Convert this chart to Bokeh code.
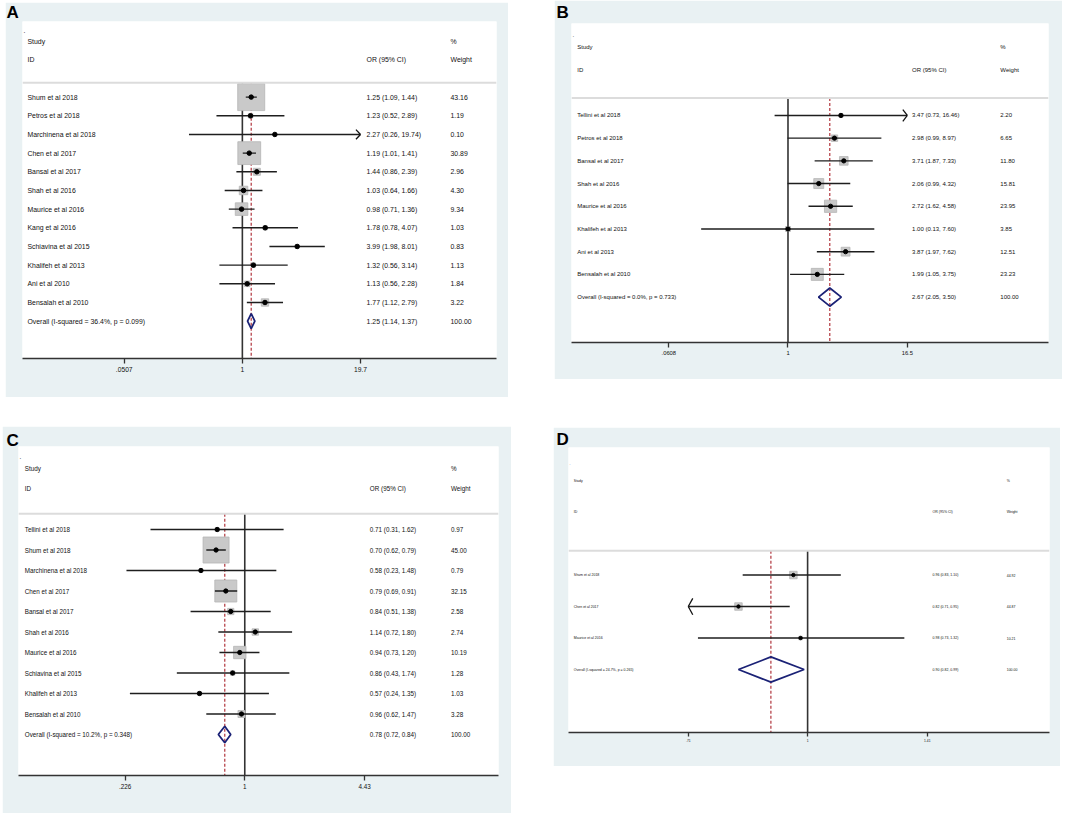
import numpy as np
from bokeh.plotting import figure
from bokeh.layouts import row, column
from bokeh.models import (Range1d, FixedTicker, CustomJSTickFormatter, Span, Label,
                          ColumnDataSource, Spacer)
from bokeh.core.properties import value
from bokeh.embed import file_html
from bokeh.resources import INLINE

FONT = "Liberation Sans"
BG = "#E9F1F3"

# ---------------- Panel A ----------------
a_studies = ["Shum et al 2018", "Petros et al 2018", "Marchinena et al 2018", "Chen et al 2017",
             "Bansal et al 2017", "Shah et al 2016", "Maurice et al 2016", "Kang et al 2016",
             "Schiavina et al 2015", "Khalifeh et al 2013", "Ani et al 2010", "Bensalah et al 2010"]
a_or = [1.25, 1.23, 2.27, 1.19, 1.44, 1.03, 0.98, 1.78, 3.99, 1.32, 1.13, 1.77]
a_lo = [1.09, 0.52, 0.26, 1.01, 0.86, 0.64, 0.71, 0.78, 1.98, 0.56, 0.56, 1.12]
a_hi = [1.44, 2.89, 19.74, 1.41, 2.39, 1.66, 1.36, 4.07, 8.01, 3.14, 2.28, 2.79]
a_wt = [43.16, 1.19, 0.10, 30.89, 2.96, 4.30, 9.34, 1.03, 0.83, 1.13, 1.84, 3.22]
a_overall = [1.25, 1.14, 1.37]
a_overall_label = "Overall  (I-squared = 36.4%, p = 0.099)"
a_ticks = [0.0507, 1, 19.7]
a_tick_labels = [".0507", "1", "19.7"]

# ---------------- Panel B ----------------
b_studies = ["Tellini et al 2018", "Petros et al 2018", "Bansal et al 2017", "Shah et al 2016",
             "Maurice et al 2016", "Khalifeh et al 2013", "Ani et al 2013", "Bensalah et al 2010"]
b_or = [3.47, 2.98, 3.71, 2.06, 2.72, 1.00, 3.87, 1.99]
b_lo = [0.73, 0.99, 1.87, 0.99, 1.62, 0.13, 1.97, 1.05]
b_hi = [16.46, 8.97, 7.33, 4.32, 4.58, 7.60, 7.62, 3.75]
b_wt = [2.20, 6.65, 11.80, 15.81, 23.95, 3.85, 12.51, 23.23]
b_overall = [2.67, 2.05, 3.50]
b_overall_label = "Overall  (I-squared = 0.0%, p = 0.733)"
b_ticks = [0.0608, 1, 16.5]
b_tick_labels = [".0608", "1", "16.5"]

# ---------------- Panel C ----------------
c_studies = ["Tellini et al 2018", "Shum et al 2018", "Marchinena et al 2018", "Chen et al 2017",
             "Bansal et al 2017", "Shah et al 2016", "Maurice et al 2016", "Schiavina et al 2015",
             "Khalifeh et al 2013", "Bensalah et al 2010"]
c_or = [0.71, 0.70, 0.58, 0.79, 0.84, 1.14, 0.94, 0.86, 0.57, 0.96]
c_lo = [0.31, 0.62, 0.23, 0.69, 0.51, 0.72, 0.73, 0.43, 0.24, 0.62]
c_hi = [1.62, 0.79, 1.48, 0.91, 1.38, 1.80, 1.20, 1.74, 1.35, 1.47]
c_wt = [0.97, 45.00, 0.79, 32.15, 2.58, 2.74, 10.19, 1.28, 1.03, 3.28]
c_overall = [0.78, 0.72, 0.84]
c_overall_label = "Overall  (I-squared = 10.2%, p = 0.348)"
c_ticks = [0.226, 1, 4.43]
c_tick_labels = [".226", "1", "4.43"]

# ---------------- Panel D ----------------
d_studies = ["Shum et al 2018", "Chen et al 2017", "Maurice et al 2016"]
d_or = [0.96, 0.82, 0.98]
d_lo = [0.83, 0.71, 0.73]
d_hi = [1.10, 0.95, 1.32]
d_wt = [44.92, 44.87, 10.21]
d_overall = [0.90, 0.82, 0.99]
d_overall_label = "Overall  (I-squared = 24.7%, p = 0.265)"
d_ticks = [0.71, 1, 1.41]
d_tick_labels = [".71", "1", "1.41"]

# ---------------- layout / style per panel ----------------
lay_A = dict(letter="A", w=503, h=395, bl=17, br=12, bt=19, bb=39, f_lo=0.2146, f_hi=0.713,
             f_lab=0.0105, f_or=0.726, f_wt=0.903, fs=6.9, tfs=6.7, box=4.11, dot=4.5,
             tick_out=5, standoff=3, ldx=-4, ldy=0)
lay_B = dict(letter="B", w=508, h=379, bl=17, br=14, bt=23, bb=37, f_lo=0.204, f_hi=0.704,
             f_lab=0.012, f_or=0.714, f_wt=0.899, fs=6.0, tfs=5.8, box=2.5, dot=4.3,
             tick_out=5, standoff=3, ldx=-3, ldy=2)
lay_C = dict(letter="C", w=509, h=387, bl=16, br=13, bt=20, bb=38, f_lo=0.222, f_hi=0.721,
             f_lab=0.013, f_or=0.732, f_wt=0.901, fs=6.3, tfs=6.3, box=3.88, dot=4.3,
             tick_out=5, standoff=3, ldx=0, ldy=4)
lay_D = dict(letter="D", w=507, h=339, bl=15, br=11, bt=20, bb=34, f_lo=0.249, f_hi=0.746,
             f_lab=0.011, f_or=0.757, f_wt=0.911, fs=3.5, tfs=3.3, box=1.12, dot=3.4,
             tick_out=4, standoff=2, ldx=0, ldy=2)

SEP = 2.23
ROW_TOP = -1.05


def forest(studies, ors, los, his, wts, overall, overall_label, ticks, tick_labels, lay):
    n = len(studies)
    rows = list(np.arange(n) + 3)
    ov_row = n + 3
    y_bot = n + 5

    ln_lo, ln_hi = np.log(ticks[0]), np.log(ticks[-1])
    W = (ln_hi - ln_lo) / (lay["f_hi"] - lay["f_lo"])
    left = ln_lo - lay["f_lo"] * W
    right = left + W

    def xf(frac):
        return float(np.exp(left + frac * W))

    frame_w = lay["w"] - lay["bl"] - lay["br"]
    frame_h = lay["h"] - lay["bt"] - lay["bb"]
    px_per_ln = frame_w / W

    p = figure(width=lay["w"], height=lay["h"], x_axis_type="log",
               x_range=Range1d(np.exp(left), np.exp(right)),
               y_range=Range1d(y_bot, ROW_TOP),
               y_axis_location=None, toolbar_location=None, output_backend="svg",
               min_border_left=lay["bl"], min_border_right=lay["br"],
               min_border_top=lay["bt"], min_border_bottom=lay["bb"])
    p.border_fill_color = BG
    p.background_fill_color = "white"
    p.outline_line_color = None
    p.xgrid.visible = False
    p.ygrid.visible = False

    ax = p.xaxis[0]
    ax.ticker = FixedTicker(ticks=ticks, minor_ticks=[])
    ax.formatter = CustomJSTickFormatter(
        args=dict(tv=ticks, labels=tick_labels),
        code="let b = 0; let d = 1e9; for (let i = 0; i < tv.length; i++) {"
             " const e = Math.abs(tv[i] - tick); if (e < d) { d = e; b = i; } } return labels[b];")
    ax.axis_line_color = "#333333"
    ax.axis_line_width = 1.6
    ax.major_tick_line_color = "#333333"
    ax.major_tick_line_width = 1.3
    ax.major_tick_out = lay["tick_out"]
    ax.major_tick_in = 0
    ax.minor_tick_out = 0
    ax.minor_tick_in = 0
    ax.major_label_standoff = lay["standoff"]
    ax.major_label_text_font = FONT
    ax.major_label_text_font_size = f'{lay["tfs"]}px'
    ax.major_label_text_color = "#111111"

    # separator under header
    p.add_layout(Span(location=SEP, dimension="width", line_color="#DCDCDC", line_width=2))

    # null line and overall dashed line
    p.segment(x0=[1], y0=[SEP], x1=[1], y1=[y_bot], line_color="#333333", line_width=1.6)
    p.segment(x0=[overall[0]], y0=[SEP], x1=[overall[0]], y1=[y_bot],
              line_color="#B0343C", line_width=1.2, line_dash="3 2")

    # boxes (area proportional to weight)
    sides = [np.sqrt(w) * lay["box"] for w in wts]
    src = ColumnDataSource(dict(x=ors, y=rows, s=sides))
    p.scatter(x="x", y="y", size="s", marker="square", source=src,
              fill_color="#C9C9C9", line_color="#B5B5B5", line_width=0.8)

    # confidence interval lines (clipped to axis, with arrow at clipped end)
    lo_lim, hi_lim = ticks[0], ticks[-1]
    x0 = [max(v, lo_lim) for v in los]
    x1 = [min(v, hi_lim) for v in his]
    p.segment(x0=x0, y0=rows, x1=x1, y1=rows, line_color="#1E1E1E", line_width=1.4)
    arm = np.exp(4.5 / px_per_ln)
    ah = 0.26
    ax0, ay0, ax1, ay1 = [], [], [], []
    for lo, hi, r in zip(los, his, rows):
        if hi >= hi_lim / 1.01:
            for s in (-1, 1):
                ax0.append(hi_lim); ay0.append(r); ax1.append(hi_lim / arm); ay1.append(r + s * ah)
        if lo <= lo_lim * 1.01:
            for s in (-1, 1):
                ax0.append(lo_lim); ay0.append(r); ax1.append(lo_lim * arm); ay1.append(r + s * ah)
    if ax0:
        p.segment(x0=ax0, y0=ay0, x1=ax1, y1=ay1, line_color="#111111", line_width=1.3)

    # point estimates
    p.scatter(x=ors, y=rows, size=lay["dot"], marker="circle", fill_color="black", line_color="black")

    # overall diamond
    est, olo, ohi = overall
    p.patch(x=[olo, est, ohi, est, olo], y=[ov_row, ov_row - 0.4, ov_row, ov_row + 0.4, ov_row],
            fill_alpha=0, line_color="#1B2276", line_width=1.8)

    # text columns
    fsz = value(f'{lay["fs"]}px')
    fnt = value(FONT)
    labels = list(studies) + [overall_label]
    or_txt = [f"{o:.2f} ({l:.2f}, {h:.2f})" for o, l, h in zip(ors, los, his)] + \
             [f"{overall[0]:.2f} ({overall[1]:.2f}, {overall[2]:.2f})"]
    wt_txt = [f"{w:.2f}" for w in wts] + ["100.00"]
    ys = rows + [ov_row]
    common = dict(text_font=fnt, text_font_size=fsz, text_baseline="middle", text_align="left",
                  text_color="#111111")
    p.text(x=[xf(lay["f_lab"])] * len(ys), y=ys, text=labels, **common)
    p.text(x=[xf(lay["f_or"])] * len(ys), y=ys, text=or_txt, **common)
    p.text(x=[xf(lay["f_wt"])] * len(ys), y=ys, text=wt_txt, **common)
    # header
    p.text(x=[xf(lay["f_lab"]), xf(lay["f_lab"]), xf(lay["f_or"]), xf(lay["f_wt"]), xf(lay["f_wt"])],
           y=[0, 1, 1, 0, 1], text=["Study", "ID", "OR (95% CI)", "%", "Weight"], **common)
    p.text(x=[xf(0.002)], y=[-0.55], text=["."], **common)

    # panel letter (placed in the left side panel so it is not clipped to the frame)
    p.add_layout(Label(x=lay["ldx"], y=frame_h + lay["bt"] - lay["ldy"],
                       x_units="screen", y_units="screen", text=lay["letter"],
                       text_font=FONT, text_font_size="17px", text_font_style="bold",
                       text_baseline="top", text_align="left", text_color="black"), "left")
    return p


pA = forest(a_studies, a_or, a_lo, a_hi, a_wt, a_overall, a_overall_label, a_ticks, a_tick_labels, lay_A)
pB = forest(b_studies, b_or, b_lo, b_hi, b_wt, b_overall, b_overall_label, b_ticks, b_tick_labels, lay_B)
pC = forest(c_studies, c_or, c_lo, c_hi, c_wt, c_overall, c_overall_label, c_ticks, c_tick_labels, lay_C)
pD = forest(d_studies, d_or, d_lo, d_hi, d_wt, d_overall, d_overall_label, d_ticks, d_tick_labels, lay_D)

top = row(Spacer(width=5, height=10), column(Spacer(width=10, height=2), pA),
          Spacer(width=46, height=10), pB)
bottom = row(Spacer(width=2, height=10), pC, Spacer(width=42, height=10),
             column(Spacer(width=10, height=1), pD))
page = column(top, Spacer(width=10, height=29), bottom)

open("out.html", "w").write(file_html(page, INLINE))
